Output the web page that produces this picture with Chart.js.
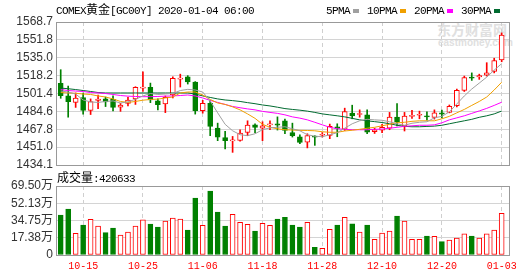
<!DOCTYPE html>
<html>
<head>
<meta charset="utf-8">
<title>COMEX黄金</title>
<script src="https://cdn.jsdelivr.net/npm/chart.js@4/dist/chart.umd.min.js"></script>
<style>
  body { margin: 0; background: #fff; }
  #box { position: relative; width: 530px; height: 276px; overflow: hidden; background: #fff; }
  #box canvas { position: absolute; left: 0; top: 0; }
  .txt { position: absolute; white-space: nowrap; line-height: 13px; color: #000; }
  .mono { font-family: "Liberation Mono", "DejaVu Sans Mono", monospace; font-size: 11px; letter-spacing: -0.6px; }
  .cjk { font-family: "Noto Sans CJK SC", sans-serif; font-size: 12px; }
  .sw { display: inline-block; width: 6px; height: 4px; margin: 0 8px 0 3px; vertical-align: 1px; }
  .wm { position: absolute; color: #e0e0e0; font-weight: bold; white-space: nowrap; }
</style>
</head>
<body>
<div id="box">
  <div class="wm" style="left:437px;top:21px;font-family:'Noto Sans CJK SC';font-size:14px;line-height:16px;">东方财富网</div>
  <div class="wm" style="left:438px;top:37px;font-family:'Liberation Sans';font-size:10px;line-height:11px;">eastmoney.com</div>
  <canvas id="priceChart" width="530" height="276"></canvas>
  <canvas id="volChart" width="530" height="276"></canvas>
  <div class="txt" style="left:56px;top:2px"><span class="mono">COMEX</span><span class="cjk">黄金</span><span class="mono">[GC00Y] 2020-01-04 06:00</span></div>
  <div class="txt" id="legend" style="left:326px;top:2px"></div>
  <div class="txt" style="left:57px;top:170px"><span class="cjk">成交量</span><span class="mono" id="volNum"></span></div>
</div>
<script>
// 交易日
var dates = ['10-10','10-11','10-14','10-15','10-16','10-17','10-18','10-21','10-22','10-23',
  '10-24','10-25','10-28','10-29','10-30','10-31','11-01','11-04','11-05','11-06',
  '11-07','11-08','11-11','11-12','11-13','11-14','11-15','11-18','11-19','11-20',
  '11-21','11-22','11-25','11-26','11-27','11-28','11-29','12-02','12-03','12-04',
  '12-05','12-06','12-09','12-10','12-11','12-12','12-13','12-16','12-17','12-18',
  '12-19','12-20','12-23','12-24','12-26','12-27','12-30','12-31','01-02','01-03'];
var tickDates = ['10-15','10-25','11-06','11-18','11-28','12-10','12-20','01-03'];

var opens = [1510.9,1499.1,1493.0,1497.5,1485.5,1494.9,1496.3,1496.0,1488.5,1492.0,
  1496.3,1506.5,1507.2,1494.4,1491.6,1500.0,1515.0,1517.1,1512.2,1485.3,
  1492.2,1468.9,1459.8,1456.8,1457.3,1464.7,1471.9,1468.7,1471.9,1472.9,
  1475.7,1464.5,1460.7,1455.6,1461.4,1462.1,1461.9,1470.1,1467.9,1482.9,
  1481.6,1481.3,1465.4,1466.8,1468.7,1479.1,1471.0,1479.9,1480.9,1480.4,
  1479.0,1483.2,1483.6,1490.0,1504.4,1516.8,1517.1,1518.7,1522.2,1533.0];
var highs = [1523.8,1508.4,1501.9,1501.9,1496.3,1500.0,1498.1,1499.1,1492.2,1497.7,
  1507.8,1521.8,1511.2,1496.5,1499.1,1517.1,1519.6,1518.2,1512.6,1495.0,
  1494.9,1473.5,1465.7,1461.0,1467.3,1475.7,1472.9,1474.8,1475.7,1479.4,
  1477.3,1473.5,1462.6,1463.5,1461.7,1464.7,1472.6,1472.9,1487.6,1490.4,
  1486.0,1486.0,1468.7,1472.4,1483.6,1492.0,1483.6,1485.5,1484.8,1484.1,
  1486.0,1485.7,1490.6,1505.6,1517.8,1520.8,1519.6,1530.4,1534.6,1558.4];
var lows = [1496.9,1479.1,1488.3,1482.0,1481.6,1487.2,1489.1,1485.0,1484.6,1489.7,
  1491.1,1503.3,1492.8,1486.0,1483.4,1497.2,1507.5,1510.3,1482.0,1482.9,
  1461.7,1457.0,1449.2,1446.0,1456.5,1461.7,1464.5,1457.0,1467.3,1467.0,
  1463.5,1460.4,1454.2,1450.2,1452.6,1460.4,1458.9,1460.7,1466.6,1477.6,
  1479.1,1463.5,1463.8,1464.5,1467.3,1471.0,1466.1,1478.0,1477.6,1476.2,
  1477.3,1478.5,1483.2,1488.8,1503.3,1513.7,1514.7,1517.8,1520.8,1531.3];
var closes = [1499.3,1493.7,1497.0,1485.5,1493.7,1496.1,1493.5,1488.3,1490.5,1495.3,
  1507.2,1507.5,1495.3,1490.9,1497.8,1515.6,1515.9,1512.4,1485.3,1492.2,
  1470.4,1460.3,1457.0,1457.6,1464.2,1471.7,1469.4,1471.0,1472.9,1471.7,
  1466.6,1461.7,1455.4,1461.7,1460.4,1462.9,1470.4,1468.5,1484.4,1480.4,
  1482.5,1465.1,1467.3,1469.6,1479.1,1474.5,1480.1,1480.6,1481.3,1479.4,
  1483.2,1482.0,1489.4,1504.4,1516.5,1515.9,1518.2,1520.8,1532.4,1556.4];

var ma5 = [1503.7,1502.8,1500.9,1495.3,1493.5,1493.0,1493.9,1494.4,1492.5,1493.5,
  1496.0,1499.1,1501.4,1500.5,1500.9,1501.4,1504.2,1505.3,1504.7,1502.8,
  1494.4,1483.2,1472.4,1466.3,1462.6,1461.7,1463.5,1467.3,1469.1,1469.6,
  1470.1,1468.2,1466.3,1462.6,1461.2,1460.7,1462.6,1464.5,1468.7,1472.9,
  1475.7,1477.1,1476.6,1476.2,1474.8,1472.9,1471.5,1473.4,1474.3,1474.8,
  1478.5,1479.9,1484.1,1491.6,1499.1,1505.6,1511.2,1516.8,1523.4,1529.5];
var ma10 = [1502.3,1501.9,1501.6,1500.9,1500.5,1499.1,1498.1,1496.3,1493.9,1493.0,
  1493.9,1495.1,1495.8,1496.1,1497.2,1498.1,1501.9,1502.8,1502.8,1500.0,
  1495.8,1492.5,1491.1,1488.8,1486.0,1482.2,1478.0,1472.4,1469.6,1468.2,
  1467.3,1467.0,1466.7,1466.6,1466.3,1465.4,1464.9,1464.9,1466.1,1466.8,
  1467.7,1468.7,1469.6,1471.0,1472.4,1473.8,1474.3,1475.2,1475.7,1475.7,
  1475.7,1477.6,1479.9,1483.2,1486.4,1490.2,1493.9,1498.1,1504.7,1512.0];
var ma20 = [1505.1,1504.2,1503.7,1503.3,1502.3,1501.9,1501.4,1500.5,1499.5,1498.9,
  1498.6,1498.4,1498.4,1498.6,1498.9,1499.1,1499.5,1500.0,1499.1,1497.2,
  1494.9,1493.0,1491.1,1489.2,1488.0,1486.9,1486.0,1484.6,1483.6,1482.7,
  1481.3,1479.4,1478.2,1476.6,1474.3,1471.9,1469.6,1468.2,1467.7,1467.3,
  1467.3,1467.3,1467.7,1467.9,1468.7,1469.6,1470.5,1471.0,1471.5,1471.5,
  1471.9,1473.8,1476.6,1478.5,1480.4,1482.7,1485.0,1487.4,1490.2,1493.2];
var ma30 = [1506.5,1505.9,1505.1,1504.2,1503.3,1502.3,1501.9,1501.9,1501.9,1501.9,
  1501.9,1501.9,1501.9,1501.9,1501.9,1501.9,1501.9,1501.9,1500.9,1499.1,
  1497.7,1496.3,1495.3,1494.7,1493.9,1492.8,1491.8,1490.6,1489.7,1488.5,
  1487.2,1486.4,1485.7,1484.8,1483.6,1482.2,1481.3,1480.4,1479.4,1478.0,
  1476.6,1475.7,1474.9,1474.1,1472.9,1471.5,1470.5,1470.1,1470.1,1470.4,
  1470.7,1471.5,1472.9,1474.3,1475.7,1477.1,1479.0,1480.4,1482.2,1484.9];

var volumes = [403000,463000,219000,302000,360000,292000,225000,272000,201000,232000,
  292000,353000,312000,282000,342000,371000,361000,252000,574000,299000,
  645000,433000,292000,410000,329000,309000,242000,319000,299000,363000,
  380000,302000,282000,329000,78000,67000,259000,302000,380000,315000,
  232000,302000,158000,222000,242000,393000,342000,158000,158000,191000,
  188000,134000,151000,171000,212000,191000,171000,212000,252000,420633];

var priceTicks = [1434.1, 1451.0, 1467.8, 1484.6, 1501.4, 1518.2, 1535.0, 1551.8, 1568.7];
var volTicks = [0, 173750, 347500, 521250, 695000];
var volTickLabels = ['0', '17.38万', '34.75万', '52.13万', '69.50万'];

var maNames = ['5PMA', '10PMA', '20PMA', '30PMA'];
var maColors = ['#a0a0a0', '#f0a000', '#ff00ff', '#006a30'];
var upColor = '#ff0000', downColor = '#008000';

var tickIdx = tickDates.map(function(d) { return dates.indexOf(d); });

// 图例 + 成交量标题
var legendHtml = '';
maNames.forEach(function(n, k) {
    legendHtml += '<span class="mono">' + n + '</span><span class="sw" style="background:' + maColors[k] + '"></span>';
});
document.getElementById('legend').innerHTML = legendHtml;
document.getElementById('volNum').textContent = ':' + volumes[volumes.length - 1];

var framePlugin = {
    id: 'frame',
    beforeDatasetsDraw: function(chart) {
        var a = chart.chartArea, ctx = chart.ctx;
        ctx.save();
        ctx.strokeStyle = '#999';
        ctx.lineWidth = 1;
        ctx.strokeRect(a.left + 0.5, a.top + 0.5, a.right - a.left, a.bottom - a.top);
        ctx.restore();
    }
};

function xAxis(showLabels) {
    return {
        type: 'linear', min: -0.63, max: 59.98, offset: false,
        afterBuildTicks: function(s) { s.ticks = tickIdx.map(function(v) { return {value: v}; }); },
        afterFit: function(s) { s.height = showLabels ? 21 : 0; },
        grid: { color: '#cfcfcf', drawTicks: false, offset: false },
        border: { display: false, dash: [4, 3] },
        ticks: {
            display: showLabels, autoSkip: false, maxRotation: 0, padding: 5, color: '#f00',
            font: { family: '"Liberation Mono", monospace', size: 10 },
            callback: function(v) { return dates[v]; }
        }
    };
}

var isUp = closes.map(function(c, i) { return c >= opens[i]; });
var bodyData = [], wickData = [], volData = [];
for (var i = 0; i < dates.length; i++) {
    bodyData.push({x: i, y: [opens[i], closes[i]]});
    wickData.push({x: i, y: [lows[i], highs[i]]});
    volData.push({x: i, y: volumes[i]});
}
var lineColor = isUp.map(function(u) { return u ? upColor : downColor; });
var fillColor = isUp.map(function(u) { return u ? '#ffffff' : downColor; });

var maSets = [ma5, ma10, ma20, ma30].map(function(arr, k) {
    return {
        type: 'line', label: maNames[k], order: 0,
        data: arr.map(function(v, j) { return {x: j, y: v}; }),
        borderColor: maColors[k], borderWidth: 1, pointRadius: 0, tension: 0
    };
});

new Chart(document.getElementById('priceChart'), {
    type: 'bar',
    data: {
        datasets: maSets.concat([
            { label: 'body', order: 1, data: bodyData, grouped: false, barThickness: 5, minBarLength: 1,
              backgroundColor: fillColor, borderColor: lineColor, borderWidth: 1, borderSkipped: false },
            { label: 'wick', order: 2, data: wickData, grouped: false, barThickness: 1,
              backgroundColor: lineColor, borderWidth: 0 }
        ])
    },
    options: {
        responsive: false, animation: false, events: [],
        layout: { padding: { top: 22, right: 21, bottom: 111, left: 0 } },
        plugins: { legend: { display: false }, tooltip: { enabled: false } },
        scales: {
            x: xAxis(false),
            y: {
                min: 1434.1, max: 1568.7,
                afterBuildTicks: function(s) { s.ticks = priceTicks.map(function(v) { return {value: v}; }); },
                afterFit: function(s) { s.width = 56; },
                grid: { color: '#d4d4d4', drawTicks: false },
                border: { display: false },
                ticks: { padding: 3, color: '#333', autoSkip: false,
                         font: { family: '"Liberation Sans", Arial, sans-serif', size: 12 },
                         callback: function(v) { return v.toFixed(1); } }
            }
        }
    },
    plugins: [framePlugin]
});

new Chart(document.getElementById('volChart'), {
    type: 'bar',
    data: {
        datasets: [{
            label: 'vol', data: volData, grouped: false, barThickness: 5,
            backgroundColor: fillColor, borderColor: lineColor, borderWidth: 1, borderSkipped: false
        }]
    },
    options: {
        responsive: false, animation: false, events: [],
        layout: { padding: { top: 186, right: 21, bottom: 0, left: 0 } },
        plugins: { legend: { display: false }, tooltip: { enabled: false } },
        scales: {
            x: xAxis(true),
            y: {
                min: 0, max: 695000,
                afterBuildTicks: function(s) { s.ticks = volTicks.map(function(v) { return {value: v}; }); },
                afterFit: function(s) { s.width = 56; },
                grid: { color: '#d4d4d4', drawTicks: false },
                border: { display: false },
                ticks: { padding: 3, color: '#333', autoSkip: false,
                         font: { family: '"Liberation Sans", "Noto Sans CJK SC", sans-serif', size: 12 },
                         callback: function(v, idx) { return volTickLabels[idx]; } }
            }
        }
    },
    plugins: [framePlugin]
});
</script>
</body>
</html>
